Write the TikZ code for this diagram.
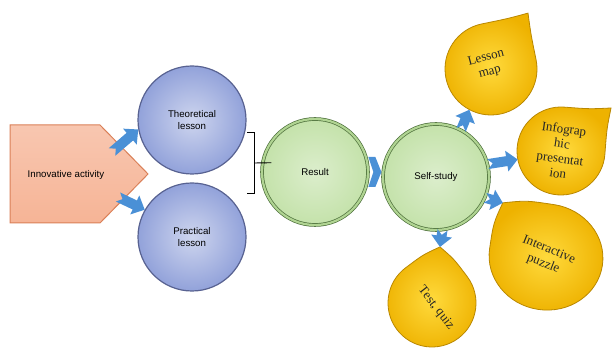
\documentclass[tikz,border=0pt]{standalone}
\usepackage{fontspec}
\setmainfont{Liberation Serif}
\setsansfont{Liberation Sans}
\RequirePackage{xcolor}
\definecolor{lessonblue}{RGB}{146,162,218}
\definecolor{lessonline}{RGB}{88,98,145}
\definecolor{resultgreen}{RGB}{196,226,170}
\definecolor{resultring}{RGB}{176,212,146}
\definecolor{resultline}{RGB}{78,112,60}
\definecolor{dropgold}{RGB}{238,178,0}
\definecolor{droplight}{RGB}{255,218,60}
\definecolor{dropline}{RGB}{185,135,0}
\definecolor{innovfill}{RGB}{246,180,150}
\definecolor{innovline}{RGB}{218,128,88}
\definecolor{arrowblue}{RGB}{74,144,214}
\tikzset{every picture/.style={/utils/exec={\sffamily}}}
\usetikzlibrary{calc}
\usetikzlibrary{positioning}

\tikzset{
  lessonball/.style={circle, draw=lessonline, line width=1.2pt,
    inner color=lessonblue!45!white, outer color=lessonblue,
    minimum size=108pt, align=center, font=\fontsize{9.7}{12}\selectfont},
  greenball/.style={circle, draw=resultline, line width=0.7pt,
    double=resultring, double distance=2.2pt,
    inner color=resultgreen!60!white, outer color=resultgreen,
    minimum size=106pt, font=\fontsize{9.7}{12}\selectfont},
  dropbody/.style={circle, inner sep=0pt},
  dropshape/.style={draw=dropline, line width=0.8pt,
    inner color=droplight, outer color=dropgold},
  droptext/.style={align=center, text=black!85,
    font=\rmfamily\fontsize{13}{15}\selectfont},
  innovtext/.style={font=\fontsize{9.7}{12}\selectfont},
  bracket/.style={line width=0.9pt}
}

% drop: name, x radius, y radius, turn, tip
\newcommand{\teardrop}[5]{%
  \begin{scope}[shift={(#1.center)}, rotate=#4, xscale=#2, yscale=#3]
    \path[dropshape] (1,0) arc[start angle=0, end angle=-270, radius=1]
      .. controls (0.55*#5,1) .. (#5,#5) coordinate (#1 tip)
      .. controls (1,0.55*#5) .. (1,0) -- cycle;
  \end{scope}}

% notched block arrow from #1 to #2
\newcommand{\notchedarrow}[2]{%
  \fill[arrowblue] ($(#1)!5pt!90:(#2)$)
    -- ($(#2)!11pt!(#1)!5pt!90:(#2)$)
    -- ($(#2)!11pt!(#1)!10.5pt!90:(#2)$)
    -- (#2)
    -- ($(#2)!11pt!(#1)!10.5pt!-90:(#2)$)
    -- ($(#2)!11pt!(#1)!5pt!-90:(#2)$)
    -- ($(#1)!5pt!-90:(#2)$)
    -- ($(#1)!5pt!(#2)$) -- cycle;}

\begin{document}
\begin{tikzpicture}[x=1pt, y=1pt]
  \useasboundingbox (0,0) rectangle (612,352);

  % innovative activity
  \path[draw=innovline, line width=1pt, top color=innovfill!75!white, bottom color=innovfill]
    (10,227) -- (100,227) -- (148,178) -- (100,129) -- (10,129) -- cycle;
  \node[innovtext] (innov) at (66,177) {Innovative activity};

  % lessons
  \node[lessonball] (theo) at (192,232) {Theoretical\\lesson};
  \node[lessonball] (prac) at (192,115) {Practical\\lesson};

  % result and self-study
  \node[greenball] (result) at (315,180) {Result};
  \node[greenball] (self) at (436,175) {Self-study};

  \coordinate (bracetop) at (247,220);
  \coordinate (bracebot) at (247,159);
  \coordinate (bracemid) at (254,189);
  \draw[bracket] (bracetop) -- ++(7,0) |- (bracebot);
  \draw[bracket] (bracemid) -- ([xshift=9]result.170);

  % drops
  \node[dropbody, minimum size=92pt] (lesson) at (491,283) {};
  \node[dropbody, minimum size=88pt] (info) at (561,201) {};
  \node[dropbody, minimum size=110pt] (inter) at (546,95) {};
  \node[dropbody, minimum size=88pt] (test) at (432,49) {};

  \teardrop{lesson}{46}{46}{11.5}{1.03}
  \teardrop{info}{44}{44}{-4.3}{1.06}
  \teardrop{inter}{53}{57}{81.5}{0.89}
  \teardrop{test}{44}{44}{36.9}{0.91}

  \node[droptext, rotate=15] (lessontext) at ([shift={(-3,4)}]lesson.center) {Lesson\\map};
  \node[droptext, rotate=-8] (infotext) at (info) {Infograp\\hic\\presentat\\ion};
  \node[droptext, rotate=-22] (intertext) at (inter) {Interactive\\puzzle};
  \node[droptext, rotate=-52] (testtext) at ([shift={(4,-5)}]test.center) {Test, quiz};

  % arrows
  \coordinate (innovtop) at ([shift={(46,23)}]innov.center);
  \coordinate (innovbot) at ([shift={(52,-22)}]innov.center);
  \notchedarrow{innovtop}{theo.190}
  \notchedarrow{innovbot}{prac.150}

  \fill[arrowblue] ([yshift=15]result.east) -- ++(7,0) -- ++(6,-15) -- ++(-6,-15)
    -- ++(-7,0) -- ++(5,15) -- cycle;

  \notchedarrow{self.62}{lesson.242}
  \notchedarrow{self.14}{info.191}
  \notchedarrow{self.-23}{inter tip}
  \notchedarrow{self.-83}{test tip}

\end{tikzpicture}
\end{document}
